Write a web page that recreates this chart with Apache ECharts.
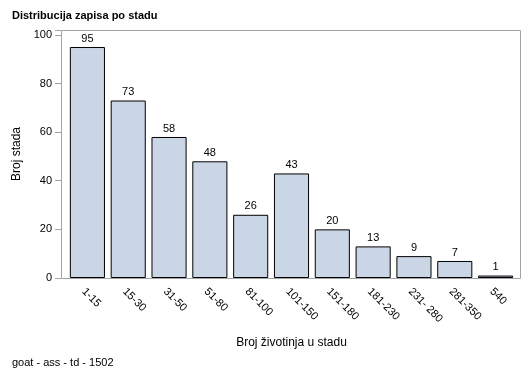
<!DOCTYPE html>
<html>
<head>
<meta charset="utf-8">
<script src="https://cdn.jsdelivr.net/npm/echarts@6/dist/echarts.min.js"></script>
<style>
html, body { margin: 0; padding: 0; background: #fff; }
#chart-container { width: 529px; height: 377px; }
</style>
</head>
<body>
<div id="chart-container"></div>
<script>
// kategorije i vrijednosti
const kategorije = ['1-15', '15-30', '31-50', '51-80', '81-100', '101-150', '151-180', '181-230', '231- 280', '281-350', '540'];
const brojStada = [95, 73, 58, 48, 26, 43, 20, 13, 9, 7, 1];
const yTicks = [0, 20, 40, 60, 80, 100];

const font = 'Liberation Sans, Arial, sans-serif';
const sivo = '#a0a4a8';
var myChart = echarts.init(document.getElementById('chart-container'));

var option = {
    animation: false,
    backgroundColor: '#fff',
    title: [
        {
            text: 'Distribucija zapisa po stadu',
            left: 7, top: 5,
            textStyle: { fontFamily: font, fontSize: 11, fontWeight: 'bold', color: '#000' }
        },
        {
            text: 'goat - ass - td - 1502',
            left: 7, top: 352,
            textStyle: { fontFamily: font, fontSize: 11, fontWeight: 'normal', color: '#000' }
        }
    ],
    // okvir oko područja grafa
    graphic: [{
        type: 'rect',
        shape: { x: 61.5, y: 30.5, width: 459, height: 248 },
        style: { fill: 'none', stroke: sivo, lineWidth: 1 },
        z: 10
    }],
    grid: {
        left: 67, right: 13, top: 30, bottom: 99
    },
    xAxis: {
        type: 'category',
        data: kategorije,
        name: 'Broj životinja u stadu',
        nameLocation: 'middle',
        nameGap: 59,
        nameTextStyle: { fontFamily: font, fontSize: 12, color: '#000' },
        axisLine: { show: false },
        axisTick: { alignWithLabel: true, length: 5, lineStyle: { color: sivo } },
        axisLabel: { rotate: -45, fontFamily: font, fontSize: 11, color: '#000', margin: 8, verticalAlign: 'top' }
    },
    yAxis: {
        type: 'value',
        min: 0, max: 102, interval: 20,
        offset: 6,
        name: 'Broj stada',
        nameLocation: 'middle',
        nameGap: 37,
        nameTextStyle: { fontFamily: font, fontSize: 12, color: '#000' },
        splitLine: { show: false },
        axisLine: { show: false },
        axisTick: { show: true, length: 6, lineStyle: { color: sivo } },
        axisLabel: {
            fontFamily: font, fontSize: 11, color: '#000', margin: 9,
            formatter: v => (yTicks.indexOf(v) >= 0 ? String(v) : '')
        }
    },
    series: [{
        type: 'bar',
        data: brojStada,
        barCategoryGap: '14%',
        itemStyle: { color: '#cad5e5', borderColor: '#000', borderWidth: 1 },
        label: { show: true, position: 'top', distance: 3, fontFamily: font, fontSize: 11, color: '#000' }
    }]
};

myChart.setOption(option);
</script>
</body>
</html>
